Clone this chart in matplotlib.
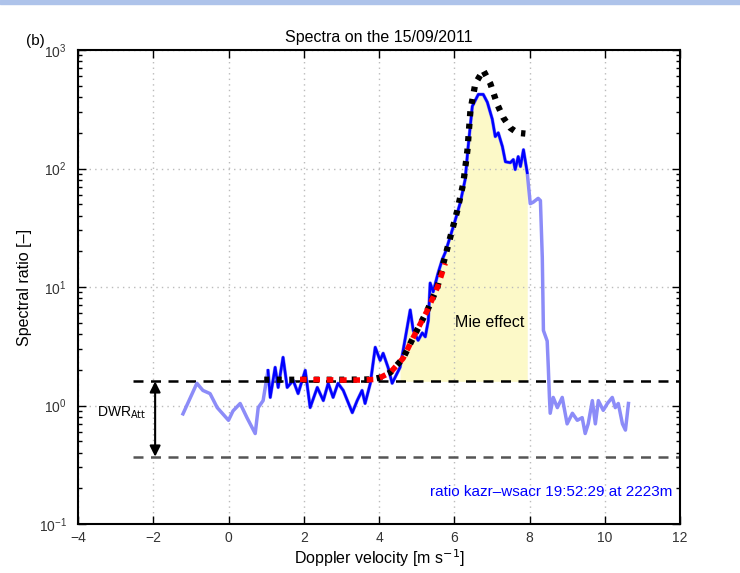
import numpy as np
import matplotlib
matplotlib.use('Agg')
import matplotlib.pyplot as plt
from matplotlib.patches import Rectangle

plt.rcParams['font.family'] = ['Liberation Sans', 'DejaVu Sans']

# ratio kazr/wsacr spectrum, full range (light) and retained part (dark)
vel_full = [-1.21, -0.84, -0.68, -0.49, -0.30, 0.00, 0.12, 0.31, 0.49, 0.71, 0.79, 0.92,
            1.05, 1.11, 1.24, 1.32, 1.45, 1.56, 1.72, 1.85, 2.04, 2.17, 2.36, 2.52,
            2.65, 2.78, 2.91, 3.05, 3.29, 3.42, 3.55, 3.63, 3.77, 3.90, 4.03, 4.11,
            4.24, 4.35, 4.56, 4.64, 4.83, 4.91, 5.04, 5.15, 5.23, 5.31, 5.36, 5.44,
            5.57, 5.68, 5.76, 5.89, 6.03, 6.16, 6.29, 6.37, 6.48, 6.64, 6.77, 6.88,
            7.01, 7.09, 7.17, 7.28, 7.36, 7.49, 7.57, 7.62, 7.70, 7.76, 7.84, 7.94,
            8.02, 8.10, 8.23, 8.29, 8.34, 8.37, 8.47, 8.50, 8.53, 8.55, 8.63, 8.74,
            8.87, 9.00, 9.14, 9.27, 9.40, 9.48, 9.56, 9.67, 9.75, 9.83, 9.96, 10.07,
            10.20, 10.28, 10.36, 10.47, 10.55, 10.63]
ratio_full = [0.85, 1.54, 1.34, 1.26, 0.96, 0.75, 0.90, 1.04, 0.79, 0.58, 0.96, 1.10,
              1.98, 1.17, 2.10, 1.42, 2.55, 1.42, 1.63, 1.26, 1.98, 0.96, 1.42, 1.10,
              1.54, 1.17, 1.54, 1.34, 0.87, 1.10, 1.34, 1.04, 1.54, 3.10, 2.40, 2.76,
              2.10, 1.54, 2.10, 2.90, 6.40, 4.30, 3.55, 4.10, 3.80, 5.20, 10.8, 9.10,
              13.1, 17.0, 19.5, 26.4, 37.0, 51.5, 80.8, 153, 335, 422, 422, 362,
              261, 186, 200, 153, 114, 112, 119, 98, 126, 104, 144, 92,
              50.5, 52, 56, 53.6, 17.7, 4.3, 3.5, 2.1, 1.17, 0.86, 1.17, 0.96,
              1.17, 0.70, 0.86, 0.75, 0.79, 0.58, 0.70, 1.10, 0.70, 1.10, 0.91, 1.04,
              1.17, 0.96, 1.04, 0.70, 0.62, 1.04]
vel_min, vel_max = 1.05, 7.94

# fitted curves
fit_vel = [1.9, 2.5, 3.0, 3.5, 3.9, 4.03, 4.3, 4.64, 4.91, 5.28, 5.55, 5.76]
fit_ratio = [1.66, 1.65, 1.64, 1.64, 1.66, 1.72, 1.9, 2.5, 3.75, 6.3, 9.9, 15.8]

model_vel = [0.95, 2.0, 3.0, 3.8, 4.03, 4.3, 4.64, 4.91, 5.28, 5.55, 5.71, 5.89, 6.08,
             6.24, 6.35, 6.43, 6.56, 6.77, 6.96, 7.14, 7.30, 7.49, 7.68, 7.89]
model_ratio = [1.65, 1.65, 1.65, 1.66, 1.72, 1.9, 2.5, 3.75, 6.3, 9.9, 15.8, 26, 44,
               75, 142, 310, 520, 675, 520, 350, 270, 220, 200, 197]

dwr_top = 1.6
dwr_bottom = 0.37
mie_start, mie_end = 4.5, 7.94

vel = np.array(vel_full)
ratio = np.array(ratio_full)
keep = (vel >= vel_min) & (vel <= vel_max)

fig = plt.figure(figsize=(7.4, 5.73), dpi=100)
fig.patches.append(Rectangle((0, 1 - 4 / 573), 1, 4 / 573, transform=fig.transFigure,
                             color='#aec3ea', zorder=0))
ax = fig.add_axes([78 / 740, 1 - 524 / 573, 602 / 740, 474 / 573])

mie = (vel >= mie_start) & (vel <= mie_end)
ax.fill_between(vel, dwr_top, ratio, where=mie & (ratio > dwr_top),
                color='#fcf9c8', lw=0, zorder=1)

ax.plot([-2.55, 12], [dwr_top, dwr_top], color='black', lw=1.8, dashes=(4, 3), zorder=2)
ax.plot([-2.55, 12], [dwr_bottom, dwr_bottom], color='#555555', lw=1.8,
        dashes=(4, 3), zorder=2)

ax.plot(vel, ratio, color='#8c8cf8', lw=2.5, zorder=3)
ax.plot(vel[keep], ratio[keep], color='#0000ff', lw=1.8, zorder=4)
ax.plot(model_vel, model_ratio, color='black', lw=4.5, dashes=(0.8, 1.2), zorder=5)
ax.plot(fit_vel, fit_ratio, color='red', lw=4, dashes=(1.2, 1.2), zorder=6)

ax.annotate('', xy=(-1.95, dwr_bottom), xytext=(-1.95, dwr_top),
            arrowprops=dict(arrowstyle='<|-|>', color='black', lw=1.5,
                            mutation_scale=16, shrinkA=0, shrinkB=0))
ax.text(-3.5, 0.87, r'DWR$_{\rm Att}$', fontsize=10, va='center', ha='left')
ax.text(6.95, 5.0, 'Mie effect', fontsize=11.5, ha='center', va='center')
ax.text(11.8, 0.185, 'ratio kazr\u2013wsacr 19:52:29 at 2223m', color='#0000ff',
        fontsize=11, ha='right', va='center')

ax.set_yscale('log')
ax.set_xlim(-4, 12)
ax.set_ylim(0.1, 1000)
ax.set_xticks(np.arange(-4, 13, 2))
ax.set_xticklabels(['\u22124', '\u22122', '0', '2', '4', '6', '8', '10', '12'])
ax.tick_params(which='both', direction='in', top=True, right=True, labelsize=10,
               colors='black', labelcolor='#333333')
ax.tick_params(which='major', length=6, width=1)
ax.tick_params(which='minor', length=3, width=1)
ax.tick_params(axis='y', pad=8)
ax.tick_params(axis='x', pad=5)
ax.minorticks_off()
ax.yaxis.set_minor_locator(matplotlib.ticker.LogLocator(base=10, subs=np.arange(2, 10)))
ax.xaxis.set_minor_locator(matplotlib.ticker.NullLocator())
ax.grid(True, which='major', color='#bbbbbb', ls=(0, (1, 3)), lw=1)
for s in ax.spines.values():
    s.set_linewidth(1.5)

ax.set_title('Spectra on the 15/09/2011', fontsize=11.5, pad=6)
ax.set_xlabel(r'Doppler velocity [m s$^{-1}$]', fontsize=11.5, labelpad=2)
ax.set_ylabel('Spectral ratio [\u2013]', fontsize=11.5, labelpad=5)
fig.text(26 / 740, 1 - 41 / 573, '(b)', fontsize=11, va='center')

fig.savefig('out.png', dpi=100)
